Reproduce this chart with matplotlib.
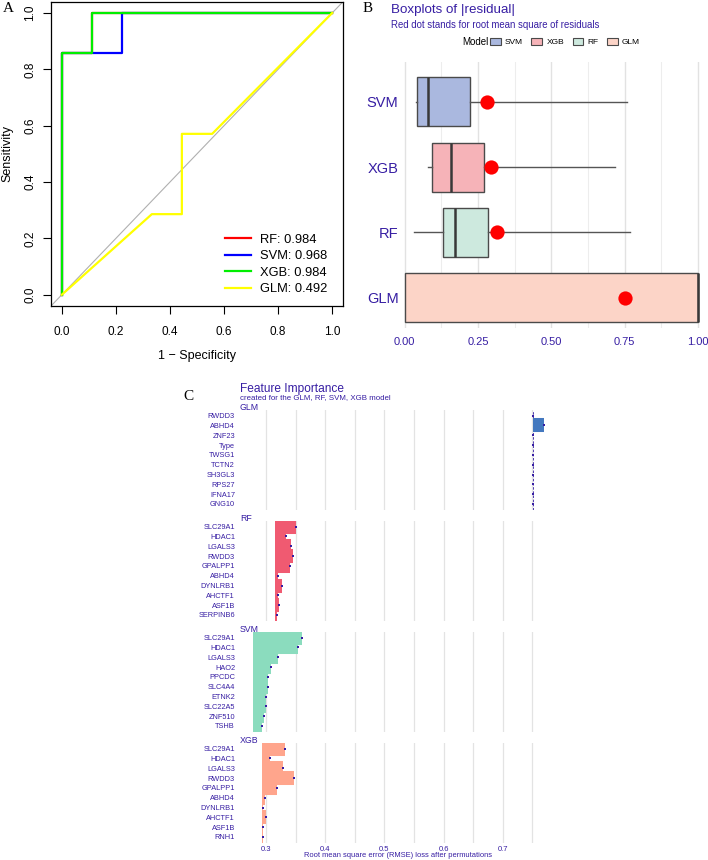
import numpy as np
import matplotlib
matplotlib.use("Agg")
import matplotlib.pyplot as plt
from matplotlib.patches import Patch

plt.rcParams['font.family'] = ['Liberation Sans', 'DejaVu Sans']

W, H = 708, 860
DALEX = '#371ea3'

# ---- panel A: ROC curves ----
roc_names = ['RF', 'SVM', 'XGB', 'GLM']
roc_auc = [0.984, 0.968, 0.984, 0.492]
roc_colors = ['#ff0000', '#0000ff', '#00ee00', '#ffff00']
roc_fpr = [
    [0, 0, 0.111, 0.111, 1],
    [0, 0, 0.222, 0.222, 1],
    [0, 0, 0.111, 0.111, 1],
    [0, 0.333, 0.444, 0.444, 0.556, 1],
]
roc_tpr = [
    [0, 0.857, 0.857, 1, 1],
    [0, 0.857, 0.857, 1, 1],
    [0, 0.857, 0.857, 1, 1],
    [0, 0.286, 0.286, 0.571, 0.571, 1],
]

# ---- panel B: residual boxplots ----
box_models = ['SVM', 'XGB', 'RF', 'GLM']
box_whislo = [0.040, 0.080, 0.032, 0.0]
box_q1 = [0.043, 0.094, 0.132, 0.0]
box_med = [0.080, 0.157, 0.170, 1.0]
box_q3 = [0.224, 0.272, 0.285, 1.0]
box_whishi = [0.757, 0.716, 0.768, 1.0]
box_rmse = [0.281, 0.294, 0.316, 0.750]
box_colors = ['#aab8df', '#f6b3b8', '#cde9de', '#fcd4c7']

# ---- panel C: permutation feature importance ----
fi_models = ['GLM', 'RF', 'SVM', 'XGB']
fi_colors = ['#4378bf', '#f05a71', '#8bdcbe', '#ffa58c']
fi_base = [0.7505, 0.3158, 0.2786, 0.2927]
fi_features = [
    ['RWDD3', 'ABHD4', 'ZNF23', 'Type', 'TWSG1', 'TCTN2', 'SH3GL3', 'RPS27', 'IFNA17', 'GNG10'],
    ['SLC29A1', 'HDAC1', 'LGALS3', 'RWDD3', 'GPALPP1', 'ABHD4', 'DYNLRB1', 'AHCTF1', 'ASF1B', 'SERPINB6'],
    ['SLC29A1', 'HDAC1', 'LGALS3', 'HAO2', 'PPCDC', 'SLC4A4', 'ETNK2', 'SLC22A5', 'ZNF510', 'TSHB'],
    ['SLC29A1', 'HDAC1', 'LGALS3', 'RWDD3', 'GPALPP1', 'ABHD4', 'DYNLRB1', 'AHCTF1', 'ASF1B', 'RNH1'],
]
fi_loss = [
    [0.7505, 0.7696, 0.7505, 0.7505, 0.7505, 0.7505, 0.7505, 0.7505, 0.7505, 0.7505],
    [0.350, 0.333, 0.343, 0.346, 0.3405, 0.320, 0.3276, 0.320, 0.322, 0.319],
    [0.3613, 0.3546, 0.3203, 0.3079, 0.3039, 0.3034, 0.3005, 0.300, 0.296, 0.2932],
    [0.332, 0.3068, 0.3282, 0.3478, 0.319, 0.2983, 0.2944, 0.300, 0.2944, 0.295],
]

fig = plt.figure(figsize=(W / 100, H / 100), dpi=100)


def px_axes(l, t, r, b):
    return fig.add_axes([l / W, 1 - b / H, (r - l) / W, (b - t) / H])


# panel A
axA = px_axes(51, 1.7, 343, 306)
axA.plot([-0.04, 1.04], [-0.04, 1.04], color='#b0b0b0', lw=0.8, zorder=1)
for name, auc, col, fx, ty in zip(roc_names, roc_auc, roc_colors, roc_fpr, roc_tpr):
    axA.plot(fx, ty, color=col, lw=1.6, label=f'{name}: {auc:.3f}', zorder=2)
axA.set_xlim(-0.04, 1.04)
axA.set_ylim(-0.04, 1.04)
ticks = [0, 0.2, 0.4, 0.6, 0.8, 1.0]
axA.set_xticks(ticks)
axA.set_yticks(ticks)
axA.set_xticklabels([f'{t:.1f}' for t in ticks])
axA.set_yticklabels([f'{t:.1f}' for t in ticks], rotation=90, va='center')
axA.tick_params(direction='out', length=5.5, width=0.8, labelsize=8.5)
axA.tick_params(axis='x', pad=9)
axA.tick_params(axis='y', pad=5)
for s in axA.spines.values():
    s.set_linewidth(0.9)
axA.set_xlabel('1 \u2212 Specificity', fontsize=9)
axA.set_ylabel('Sensitivity', fontsize=9)
axA.xaxis.set_label_coords(0.5, -0.163)
axA.xaxis.label.set_va('center')
axA.yaxis.set_label_coords(-0.151, 0.5)
axA.yaxis.label.set_va('center')
axA.legend(loc='lower right', bbox_to_anchor=(0.945, 0.035), frameon=False,
           fontsize=9.3, handlelength=1.95, handletextpad=0.7, labelspacing=0.35,
           borderpad=0, borderaxespad=0)
fig.text(8 / W, 1 - 8 / H, 'A', family=['Liberation Serif', 'DejaVu Serif'],
         fontsize=11, ha='center', va='center')

# panel B
axB = px_axes(402, 62, 708, 328)
stats = []
for i, m in enumerate(box_models):
    stats.append(dict(label=m, whislo=box_whislo[i], q1=box_q1[i], med=box_med[i],
                      q3=box_q3[i], whishi=box_whishi[i], fliers=[]))
pos = np.arange(len(box_models))
bp = axB.bxp(stats, positions=pos, widths=0.75, orientation='horizontal',
             showcaps=False, showfliers=False, patch_artist=True,
             boxprops=dict(edgecolor='#4a4a4a', linewidth=1.0),
             whiskerprops=dict(color='#555555', linewidth=1.0),
             medianprops=dict(color='#383838', linewidth=1.8))
for patch, col in zip(bp['boxes'], box_colors):
    patch.set_facecolor(col)
axB.scatter(box_rmse, pos, s=105, color='#ff0000', zorder=5, linewidths=0)
axB.set_xlim(-0.0092, 1.034)
axB.set_ylim(3.464, -0.608)
axB.set_xticks([0, 0.25, 0.5, 0.75, 1.0])
axB.set_xticks([0.125, 0.375, 0.625, 0.875], minor=True)
axB.set_xticklabels(['0.00', '0.25', '0.50', '0.75', '1.00'])
axB.set_yticks(pos)
axB.set_yticklabels(box_models)
axB.grid(axis='x', which='major', color='#e2e2e2', lw=1.0, zorder=0)
axB.grid(axis='x', which='minor', color='#ededed', lw=0.8, zorder=0)
axB.set_axisbelow(True)
axB.tick_params(which='both', length=0, colors=DALEX)
axB.tick_params(axis='x', labelsize=8, pad=6.5)
axB.tick_params(axis='y', labelsize=10.5, pad=2.5)
for s in axB.spines.values():
    s.set_visible(False)
fig.text(368 / W, 1 - 8 / H, 'B', family=['Liberation Serif', 'DejaVu Serif'],
         fontsize=11, ha='center', va='center')
fig.text(391 / W, 1 - 9.5 / H, 'Boxplots of |residual|', fontsize=9.6, color=DALEX, va='center')
fig.text(391 / W, 1 - 25 / H, 'Red dot stands for root mean square of residuals',
         fontsize=6.9, color=DALEX, va='center')
fig.text(462 / W, 1 - 42.3 / H, 'Model', fontsize=7, va='center')
handles = [Patch(facecolor=c, edgecolor='#4a4a4a', linewidth=0.8, label=m)
           for m, c in zip(box_models, box_colors)]
fig.legend(handles=handles, loc='center left', bbox_to_anchor=(490 / W, 1 - 42.3 / H),
           ncol=4, frameon=False, fontsize=6, handlelength=1.3, handleheight=0.9,
           handletextpad=0.5, columnspacing=1.0, borderpad=0, borderaxespad=0)

# panel C
fig.text(188 / W, 1 - 397 / H, 'C', family=['Liberation Serif', 'DejaVu Serif'],
         fontsize=11, ha='center', va='center')
fig.text(240 / W, 1 - 389 / H, 'Feature Importance', fontsize=8.6, color=DALEX, va='center')
fig.text(240 / W, 1 - 397.5 / H, 'created for the GLM, RF, SVM, XGB model',
         fontsize=5.7, color=DALEX, va='center')

row_gap = 9.8
for i, m in enumerate(fi_models):
    y0 = 415.7 + 111 * i
    ax = px_axes(240, y0 - 5.9, 556, y0 + 9 * row_gap + 5.9)
    rows = np.arange(len(fi_features[i]))
    ax.axvline(fi_base[i], color=DALEX, lw=0.6, ls=(0, (3, 2)), zorder=1)
    ax.hlines(rows, fi_base[i], fi_loss[i], color=fi_colors[i], lw=10.1,
              capstyle='butt', zorder=2)
    ax.scatter(fi_loss[i], rows, marker='s', s=4.5, color=DALEX, zorder=3, linewidths=0)
    ax.set_xlim(0.2561, 0.7899)
    ax.set_ylim(9.6, -0.6)
    ax.set_yticks(rows)
    ax.set_yticklabels(fi_features[i])
    ax.set_xticks([0.3, 0.4, 0.5, 0.6, 0.7])
    ax.set_xticks([0.35, 0.45, 0.55, 0.65, 0.75], minor=True)
    ax.grid(axis='x', which='both', color='#e3e3e3', lw=0.9, zorder=0)
    ax.set_axisbelow(True)
    ax.tick_params(which='both', length=0, colors=DALEX)
    ax.tick_params(axis='y', labelsize=5.3, pad=3.6)
    ax.tick_params(axis='x', labelsize=5.5, pad=2)
    if i < len(fi_models) - 1:
        ax.set_xticklabels([])
    else:
        ax.set_xticklabels(['0.3', '0.4', '0.5', '0.6', '0.7'])
    for s in ax.spines.values():
        s.set_visible(False)
    ax.text(0, 1.0, m, transform=ax.transAxes, fontsize=6.3, color=DALEX,
            ha='left', va='baseline')

fig.text(398 / W, 1 - 855.5 / H, 'Root mean square error (RMSE) loss after permutations',
         fontsize=5.4, color=DALEX, ha='center', va='center')

fig.savefig('out.png', dpi=100)
